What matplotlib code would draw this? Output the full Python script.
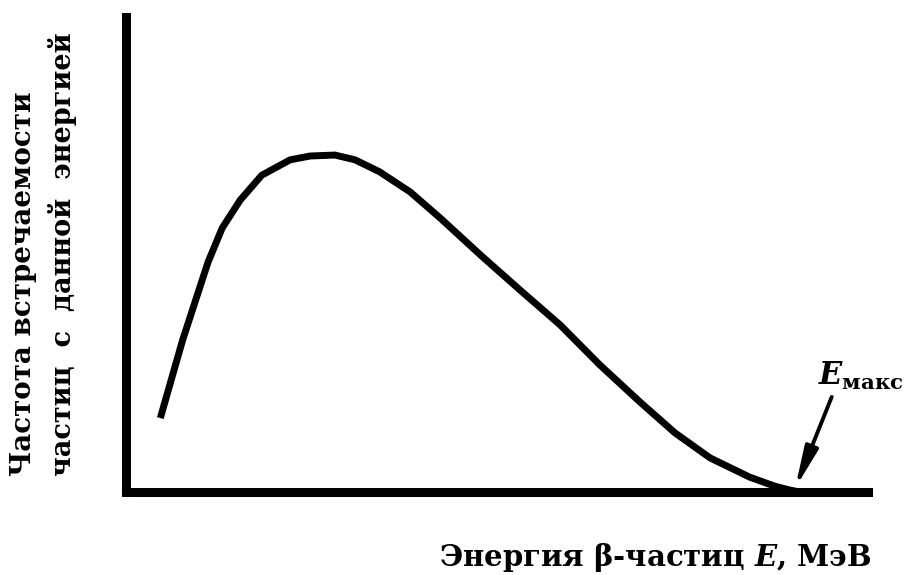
import matplotlib
matplotlib.use("Agg")
import matplotlib.pyplot as plt

plt.rcParams["mathtext.fontset"] = "custom"
plt.rcParams["mathtext.it"] = "DejaVu Serif:italic:bold"
plt.rcParams["mathtext.rm"] = "DejaVu Serif:bold"
plt.rcParams["mathtext.bf"] = "DejaVu Serif:bold"

# Beta-spectrum shape (relative energy, relative frequency)
energy = [0.046, 0.076, 0.110, 0.129, 0.153, 0.182, 0.220, 0.247, 0.280, 0.307,
          0.340, 0.381, 0.421, 0.475, 0.528, 0.582, 0.635, 0.689, 0.736, 0.783,
          0.836, 0.870, 0.890, 0.903]
frequency = [0.154, 0.317, 0.479, 0.550, 0.608, 0.660, 0.692, 0.700, 0.702, 0.692,
             0.667, 0.625, 0.571, 0.494, 0.421, 0.348, 0.265, 0.1875, 0.123, 0.071,
             0.031, 0.012, 0.004, 0.0]
e_max = 0.903

xlabel = r"Энергия β-частиц $E$, МэВ"
ylabel_lines = ["Частота встречаемости", "частиц  с  данной  энергией"]

fig = plt.figure(figsize=(9.12, 5.75), dpi=100)
ax = fig.add_axes([126 / 912, 83 / 575, 746 / 912, 480 / 575])
ax.plot(energy, frequency, color="black", lw=5.0, solid_capstyle="butt",
        solid_joinstyle="round")
ax.set_xlim(0, 1)
ax.set_ylim(0, 1)
ax.set_xticks([])
ax.set_yticks([])
for side in ("top", "right"):
    ax.spines[side].set_visible(False)
ax.spines["left"].set_linewidth(6.5)
ax.spines["left"].set_bounds(0, 0.99)
ax.spines["bottom"].set_linewidth(6.5)
ax.spines["bottom"].set_bounds(0, 0.995)
for side in ("left", "bottom"):
    ax.spines[side].set_capstyle("projecting")

# axis titles
fig.text(872 / 912, 1 - 557 / 575, xlabel, ha="right", va="center",
         fontsize=21, family="DejaVu Serif", fontweight="bold")
fig.text(24 / 912, 1 - 476 / 575, ylabel_lines[0], rotation=90, ha="center",
         va="bottom", fontsize=20, family="DejaVu Serif", fontweight="bold")
fig.text(63 / 912, 1 - 476 / 575, ylabel_lines[1], rotation=90, ha="center",
         va="bottom", fontsize=19.5, family="DejaVu Serif", fontweight="bold")

# E_max marker
ax.annotate("", xy=(e_max - 0.006, 0.008), xytext=(0.946, 0.198),
            arrowprops=dict(arrowstyle="-|>,head_length=1.2,head_width=0.2",
                            color="black", lw=2.8, mutation_scale=20,
                            shrinkA=0, shrinkB=0))
ax.text(0.928, 0.223, r"$E_{\mathrm{макс}}$", ha="left", va="baseline",
        fontsize=22, clip_on=False)

fig.savefig("out.png", dpi=100, facecolor="white")
